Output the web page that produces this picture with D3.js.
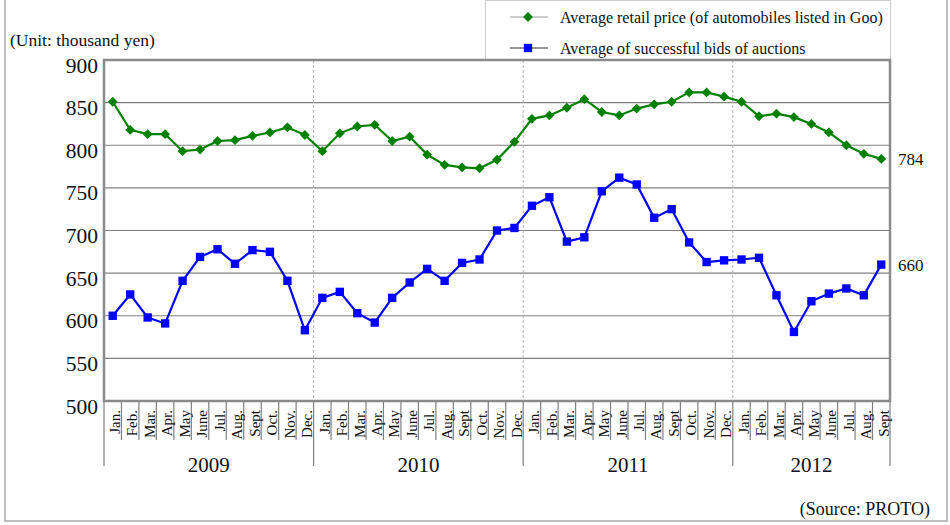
<!DOCTYPE html>
<html>
<head>
<meta charset="utf-8">
<script src="https://cdn.jsdelivr.net/npm/d3@7"></script>
<style>
  body { margin: 0; background: #fff; }
  text { font-family: "Liberation Serif", "Times New Roman", serif; fill: #111; }
</style>
</head>
<body>
<div id="chart"></div>
<script>
// data
let monthNames = ["Jan.", "Feb.", "Mar.", "Apr.", "May", "June", "Jul.", "Aug.", "Sept", "Oct.", "Nov.", "Dec."];
let years = ["2009", "2010", "2011", "2012"];
let monthsPerYear = [12, 12, 12, 9];
let retailPrice = [851, 818, 813, 813, 793, 795, 805, 806, 811, 815, 821, 812,
                   793, 814, 822, 824, 805, 810, 789, 777, 774, 773, 783, 804,
                   831, 835, 844, 854, 839, 835, 843, 848, 851, 862, 862, 857,
                   851, 834, 837, 833, 825, 815, 800, 790, 784];
let auctionBids = [600, 625, 598, 591, 641, 669, 678, 661, 677, 675, 641, 583,
                   621, 628, 603, 592, 621, 639, 655, 641, 662, 666, 700, 703,
                   729, 739, 687, 692, 746, 762, 754, 715, 725, 686, 663, 665,
                   666, 668, 624, 581, 617, 626, 632, 624, 660];
let yTicks = [500, 550, 600, 650, 700, 750, 800, 850, 900];

let width = 950, height = 525;
let plot = {left: 104, right: 890, top: 60, bottom: 401};

let svg = d3.select("#chart").append("svg")
    .attr("width", width)
    .attr("height", height);

// build month index list
let points = [];
years.forEach(function (yr, yi) {
    for (let m = 0; m < monthsPerYear[yi]; m++) {
        points.push({year: yr, month: monthNames[m], idx: points.length});
    }
});

let x = d3.scaleBand()
    .domain(points.map(d => d.idx))
    .range([plot.left, plot.right])
    .padding(0);

let y = d3.scaleLinear()
    .domain([500, 900])
    .range([plot.bottom, plot.top]);

// outer frame
svg.append("rect")
    .attr("x", 5).attr("y", -10)
    .attr("width", 942).attr("height", 531)
    .attr("fill", "none")
    .attr("stroke", "#aaaaaa")
    .attr("stroke-width", 1.5);

// legend box
svg.append("rect")
    .attr("x", 485.5).attr("y", 0.5)
    .attr("width", 405).attr("height", 60)
    .attr("fill", "#fff")
    .attr("stroke", "#cccccc");

svg.append("text")
    .attr("x", 10).attr("y", 46)
    .style("font-size", "17.5px")
    .text("(Unit: thousand yen)");

// grid lines
svg.selectAll(".grid")
    .data(yTicks.slice(1, -1))
    .enter().append("line")
    .attr("class", "grid")
    .attr("x1", plot.left).attr("x2", plot.right)
    .attr("y1", d => y(d)).attr("y2", d => y(d))
    .attr("stroke", "#808080")
    .attr("stroke-width", 1.2);

// year separators
let yearStarts = [];
let acc = 0;
monthsPerYear.forEach(function (n) { yearStarts.push(acc); acc += n; });
yearStarts.push(acc);

svg.selectAll(".yearsep")
    .data(yearStarts.slice(1, -1))
    .enter().append("line")
    .attr("class", "yearsep")
    .attr("x1", d => x(d)).attr("x2", d => x(d))
    .attr("y1", plot.top).attr("y2", plot.bottom)
    .attr("stroke", "#b5b5b5")
    .attr("stroke-dasharray", "3,2");

// y labels
svg.selectAll(".ylabel")
    .data(yTicks)
    .enter().append("text")
    .attr("class", "ylabel")
    .attr("x", 98)
    .attr("y", d => y(d) + 5)
    .attr("dy", "0.35em")
    .attr("text-anchor", "end")
    .style("font-size", "21.5px")
    .text(d => d);

// month ticks below axis
let bounds = d3.range(points.length + 1);
svg.selectAll(".mtick")
    .data(bounds)
    .enter().append("line")
    .attr("class", "mtick")
    .attr("x1", d => plot.left + d * x.step()).attr("x2", d => plot.left + d * x.step())
    .attr("y1", plot.bottom)
    .attr("y2", d => yearStarts.indexOf(d) >= 0 ? 466 : 440)
    .attr("stroke", "#808080")
    .attr("stroke-width", 1.2);

svg.selectAll(".mlabel")
    .data(points)
    .enter().append("text")
    .attr("class", "mlabel")
    .attr("transform", d => "translate(" + (x(d.idx) + x.bandwidth() / 2 + 2) + ",410) rotate(-90)")
    .attr("dy", "0.35em")
    .attr("text-anchor", "end")
    .style("font-size", "15px")
    .text(d => d.month);

svg.selectAll(".yearlabel")
    .data(years)
    .enter().append("text")
    .attr("class", "yearlabel")
    .attr("x", (d, i) => (x(yearStarts[i]) + plot.left + yearStarts[i + 1] * x.step()) / 2)
    .attr("y", 472)
    .attr("text-anchor", "middle")
    .style("font-size", "21px")
    .text(d => d);

// plot frame
svg.append("rect")
    .attr("x", plot.left).attr("y", plot.top)
    .attr("width", plot.right - plot.left)
    .attr("height", plot.bottom - plot.top)
    .attr("fill", "none")
    .attr("stroke", "#8a8a8a")
    .attr("stroke-width", 2.5);

// series
let series = [
    {name: "Average retail price (of automobiles listed in Goo)", values: retailPrice, color: "#008000", shape: "diamond"},
    {name: "Average of successful bids of auctions", values: auctionBids, color: "#0000ff", shape: "square"}
];

let cx = i => x(i) + x.bandwidth() / 2;

function drawMarker(g, shape, color) {
    if (shape === "diamond") {
        g.append("path")
            .attr("d", d3.symbol().type(d3.symbolSquare).size(48)())
            .attr("transform", "rotate(45)")
            .attr("fill", color);
    } else {
        g.append("path")
            .attr("d", d3.symbol().type(d3.symbolSquare).size(70)())
            .attr("fill", color);
    }
}

series.forEach(function (s) {
    let line = d3.line()
        .x((d, i) => cx(i))
        .y(d => y(d));

    svg.append("path")
        .datum(s.values)
        .attr("d", line)
        .attr("fill", "none")
        .attr("stroke", s.color)
        .attr("stroke-width", 2.2);

    svg.selectAll(".pt-" + s.shape)
        .data(s.values)
        .enter().append("g")
        .attr("class", "pt-" + s.shape)
        .attr("transform", (d, i) => "translate(" + cx(i) + "," + y(d) + ")")
        .each(function () { drawMarker(d3.select(this), s.shape, s.color); });

    // last value label
    let last = s.values.length - 1;
    svg.append("text")
        .attr("x", 898)
        .attr("y", y(s.values[last]))
        .attr("dy", "0.35em")
        .style("font-size", "17px")
        .text(s.values[last]);
});

// legend
series.forEach(function (s, i) {
    let ly = 17 + i * 31;
    svg.append("line")
        .attr("x1", 510).attr("x2", 548)
        .attr("y1", ly).attr("y2", ly)
        .attr("stroke", i === 0 ? "#999" : "#333")
        .attr("stroke-width", 1.2);
    let g = svg.append("g").attr("transform", "translate(528," + ly + ")");
    drawMarker(g, s.shape, s.color);
    svg.append("text")
        .attr("x", 560).attr("y", ly)
        .attr("dy", "0.35em")
        .style("font-size", "16px")
        .text(s.name);
});

svg.append("text")
    .attr("x", 930).attr("y", 515)
    .attr("text-anchor", "end")
    .style("font-size", "18px")
    .text("(Source: PROTO)");
</script>
</body>
</html>
